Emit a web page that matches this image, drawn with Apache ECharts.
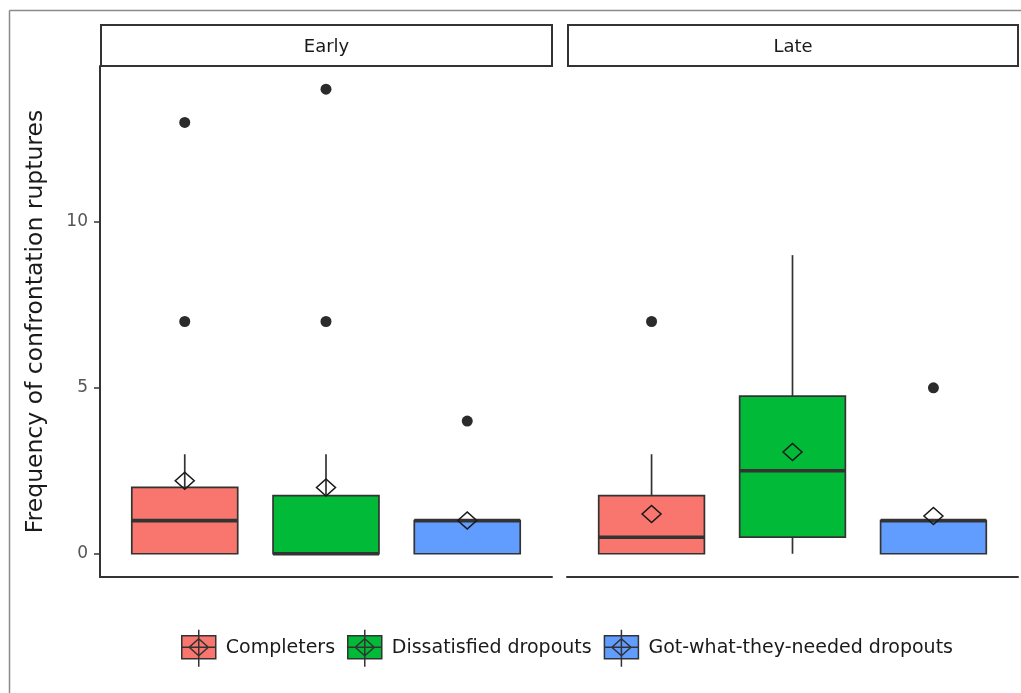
<!DOCTYPE html>
<html>
<head>
<meta charset="utf-8">
<script src="https://cdn.jsdelivr.net/npm/echarts@6/dist/echarts.min.js"></script>
<style>
html,body{margin:0;padding:0;background:#fff;}
#chart{width:1021px;height:693px;}
</style>
</head>
<body>
<div id="chart"></div>
<script>
// ---- data ----
const categories = ['Completers', 'Dissatisfied dropouts', 'Got-what-they-needed dropouts'];
const facets = ['Early', 'Late'];
// five-number summaries: [lower whisker, Q1, median, Q3, upper whisker]
const earlyBoxes = [[0, 0, 1, 2, 3], [0, 0, 0, 1.75, 3], [0, 0, 1, 1, 1]];
const lateBoxes = [[0, 0, 0.5, 1.75, 3], [0, 0.5, 2.5, 4.75, 9], [0, 0, 1, 1, 1]];
const earlyMeans = [2.2, 2.0, 1.0];
const lateMeans = [1.2, 3.07, 1.14];
const earlyOutliers = [[7, 13], [7, 14], [4]];
const lateOutliers = [[7], [], [5]];
const yTicks = [0, 5, 10];
const yTitle = 'Frequency of confrontation ruptures';

// ---- styles ----
const palette = ['#F8766D', '#00BA38', '#619CFF'];
const ink = '#333333';
const FONT = 'DejaVu Sans';

const boxesByFacet = [earlyBoxes, lateBoxes];
const meansByFacet = [earlyMeans, lateMeans];
const outliersByFacet = [earlyOutliers, lateOutliers];

function renderBox(params, api) {
  const x = api.value(0);
  const pLow = api.coord([x, api.value(1)]);
  const pQ1 = api.coord([x, api.value(2)]);
  const pMed = api.coord([x, api.value(3)]);
  const pQ3 = api.coord([x, api.value(4)]);
  const pHigh = api.coord([x, api.value(5)]);
  const half = api.size([0.75, 0])[0] / 2;
  const cx = pLow[0];
  const ls = { stroke: ink, lineWidth: 1.7 };
  return {
    type: 'group',
    children: [
      { type: 'line', shape: { x1: cx, y1: pHigh[1], x2: cx, y2: pQ3[1] }, style: ls },
      { type: 'line', shape: { x1: cx, y1: pQ1[1], x2: cx, y2: pLow[1] }, style: ls },
      { type: 'rect', shape: { x: cx - half, y: pQ3[1], width: 2 * half, height: pQ1[1] - pQ3[1] },
        style: { fill: api.visual('color'), stroke: ink, lineWidth: 1.7 } },
      { type: 'line', shape: { x1: cx - half, y1: pMed[1], x2: cx + half, y2: pMed[1] },
        style: { stroke: ink, lineWidth: 3.6 } }
    ]
  };
}

const series = [];
facets.forEach((f, fi) => {
  categories.forEach((c, ci) => {
    series.push({
      type: 'custom',
      name: c,
      xAxisIndex: fi,
      yAxisIndex: fi,
      itemStyle: { color: palette[ci] },
      encode: { x: 0, y: [1, 2, 3, 4, 5] },
      data: [[ci + 1].concat(boxesByFacet[fi][ci])],
      renderItem: renderBox,
      z: 2
    });
  });
  const outData = [];
  outliersByFacet[fi].forEach((vals, ci) => vals.forEach(v => outData.push([ci + 1, v])));
  series.push({
    type: 'scatter',
    name: f + ' outliers',
    xAxisIndex: fi,
    yAxisIndex: fi,
    symbol: 'circle',
    symbolSize: 11,
    itemStyle: { color: '#2b2b2b', opacity: 1 },
    data: outData,
    z: 3
  });
  series.push({
    type: 'scatter',
    name: f + ' means',
    xAxisIndex: fi,
    yAxisIndex: fi,
    symbol: 'diamond',
    symbolSize: [19, 17],
    itemStyle: { color: 'rgba(0,0,0,0)', borderColor: '#1a1a1a', borderWidth: 1.5, opacity: 1 },
    data: meansByFacet[fi].map((m, ci) => [ci + 1, m]),
    z: 4
  });
});

const grids = [
  { left: 100, right: 469, top: 66, bottom: 116 },
  { left: 567, right: 3, top: 66, bottom: 116 }
];

const xAxes = grids.map((g, i) => ({
  type: 'value', gridIndex: i, min: 0.4, max: 3.6,
  axisLine: { show: true, onZero: false, lineStyle: { color: ink, width: 2 } },
  axisTick: { show: false }, axisLabel: { show: false }, splitLine: { show: false }
}));

const yAxes = grids.map((g, i) => ({
  type: 'value', gridIndex: i, min: -0.7, max: 14.7,
  show: i === 0,
  name: i === 0 ? yTitle : '',
  nameLocation: 'middle',
  nameRotate: 90,
  nameGap: 52,
  nameTextStyle: { fontFamily: FONT, fontSize: 23.5, color: '#1a1a1a' },
  axisLine: { show: true, onZero: false, lineStyle: { color: ink, width: 2 } },
  axisTick: { show: true, length: 6, customValues: yTicks, lineStyle: { color: ink, width: 1.5 } },
  axisLabel: { show: true, customValues: yTicks, margin: 12, fontFamily: FONT, fontSize: 17, color: '#555555' },
  splitLine: { show: false }
}));

const stripRects = [[101, 552], [568, 1018]];
const graphic = [
  { type: 'line', shape: { x1: 9.5, y1: 10.5, x2: 9.5, y2: 693 }, style: { stroke: '#8a8a8a', lineWidth: 1.5 }, silent: true },
  { type: 'line', shape: { x1: 9.5, y1: 10.5, x2: 1021, y2: 10.5 }, style: { stroke: '#8a8a8a', lineWidth: 1.5 }, silent: true }
];
facets.forEach((f, fi) => {
  const [x1, x2] = stripRects[fi];
  graphic.push({
    type: 'rect', shape: { x: x1, y: 25, width: x2 - x1, height: 41 },
    style: { fill: '#fff', stroke: ink, lineWidth: 2 }, silent: true
  });
  graphic.push({
    type: 'text', x: (x1 + x2) / 2, y: 47,
    style: { text: f, fontFamily: FONT, fontSize: 18, fill: '#1a1a1a', align: 'center', verticalAlign: 'middle' },
    silent: true
  });
});

const legendIcon = 'path://M0,6 L34,6 L34,29 L0,29 Z M17,0 L17,37 M0,17.5 L34,17.5 M17,9 L26.5,17.5 L17,26 L7.5,17.5 Z';

const option = {
  animation: false,
  backgroundColor: '#ffffff',
  grid: grids,
  xAxis: xAxes,
  yAxis: yAxes,
  legend: {
    data: categories,
    left: 181,
    top: 629,
    padding: 0,
    itemWidth: 34,
    itemHeight: 37,
    itemGap: 12,
    icon: legendIcon,
    itemStyle: { borderColor: ink, borderWidth: 1.5 },
    textStyle: { fontFamily: FONT, fontSize: 19, color: '#1a1a1a', padding: [0, 0, 0, 5] }
  },
  graphic: graphic,
  series: series
};

const chart = echarts.init(document.getElementById('chart'), null, { renderer: 'canvas' });
chart.setOption(option);
</script>
</body>
</html>
